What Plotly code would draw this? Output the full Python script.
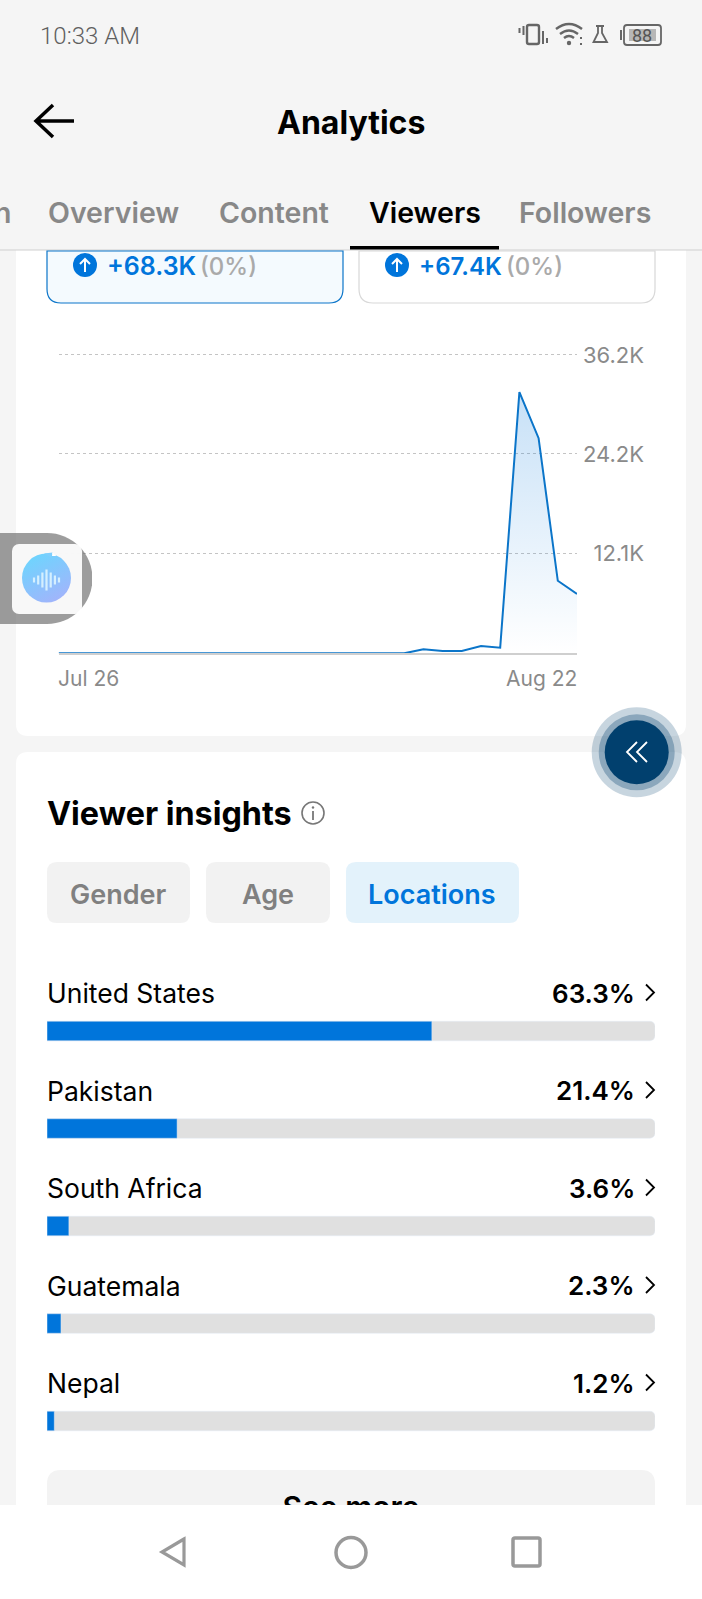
import base64, re
import plotly.graph_objects as go

W, H = 702, 1599

# ---------- data ----------
dates = ["2024-07-26","2024-07-27","2024-07-28","2024-07-29","2024-07-30","2024-07-31",
         "2024-08-01","2024-08-02","2024-08-03","2024-08-04","2024-08-05","2024-08-06",
         "2024-08-07","2024-08-08","2024-08-09","2024-08-10","2024-08-11","2024-08-12",
         "2024-08-13","2024-08-14","2024-08-15","2024-08-16","2024-08-17","2024-08-18",
         "2024-08-19","2024-08-20","2024-08-21","2024-08-22"]
viewers_k = [0,0,0,0,0,0,0,0,0,0,0,0,0,0,0,0,0,0,0,0.48,0.27,0.28,0.89,0.68,31.7,26.1,8.8,7.2]
y_ticks = [12.1, 24.2, 36.2]
y_labels = ["12.1K", "24.2K", "36.2K"]
x_labels = ["Jul 26", "Aug 22"]
countries = ["United States", "Pakistan", "South Africa", "Guatemala", "Nepal"]
shares = [63.3, 21.4, 3.6, 2.3, 1.2]
tabs = ["Overview", "Content", "Viewers", "Followers"]
chips = ["Gender", "Age", "Locations"]

# ---------- pixel helpers (page chrome only) ----------
BLUE = "#0075DB"
LINE = "#0B75C9"
def fx(x): return x / W
def fy(y): return 1 - y / H

def P(d):
    toks = re.findall(r"[A-Za-z]|-?\d+\.?\d*", d)
    out, i = [], 0
    for t in toks:
        if t.isalpha():
            out.append(t); i = 0
        else:
            v = float(t)
            out.append(f"{(fx(v) if i % 2 == 0 else fy(v)):.6f}")
            i += 1
    return " ".join(out)

shapes = []
def path(d, fill=None, line=None, lw=0, layer="above", opacity=1):
    s = dict(type="path", path=P(d), xref="paper", yref="paper", layer=layer, opacity=opacity,
             line=dict(color=line or "rgba(0,0,0,0)", width=lw))
    if fill: s["fillcolor"] = fill
    shapes.append(s)

def rrect(x0, y0, x1, y1, r):
    return (f"M {x0+r} {y0} L {x1-r} {y0} Q {x1} {y0} {x1} {y0+r} L {x1} {y1-r} Q {x1} {y1} {x1-r} {y1} "
            f"L {x0+r} {y1} Q {x0} {y1} {x0} {y1-r} L {x0} {y0+r} Q {x0} {y0} {x0+r} {y0} Z")

def circle(cx, cy, r, fill=None, line=None, lw=0, layer="above", opacity=1, ry=None):
    ry = ry or r
    s = dict(type="circle", xref="paper", yref="paper", x0=fx(cx-r), x1=fx(cx+r), y0=fy(cy+ry), y1=fy(cy-ry),
             layer=layer, opacity=opacity, line=dict(color=line or "rgba(0,0,0,0)", width=lw))
    if fill: s["fillcolor"] = fill
    shapes.append(s)

annots = []
def T(text, x, y, size, color="#000", weight=400, anchor="left", family="Inter"):
    annots.append(dict(text=text, x=fx(x), y=fy(y), xref="paper", yref="paper", xanchor=anchor, yanchor="middle",
                       showarrow=False, borderpad=0,
                       font=dict(family=family, size=size, color=color, weight=weight)))

# ---------- backgrounds ----------
path(rrect(16, 230, 686, 736, 12), fill="#FFFFFF", layer="below")
path(rrect(16, 752, 686, 1560, 12), fill="#FFFFFF", layer="below")
path(f"M 0 0 L {W} 0 L {W} 250 L 0 250 Z", fill="#F5F5F5", layer="below")
path(f"M 0 250 L {W} 250", line="#CFCFCF", lw=1, layer="below")
# summary boxes
path("M 47 251 L 47 289 Q 47 303 61 303 L 329 303 Q 343 303 343 289 L 343 251 Z", fill="#F4FAFE", line=LINE, lw=1.2, layer="below")
path("M 359 251 L 359 289 Q 359 303 373 303 L 641 303 Q 655 303 655 289 L 655 251 Z", fill="#FFFFFF", line="#D8D8D8", lw=1.2, layer="below")
# chips
path(rrect(47, 862, 190, 923, 10), fill="#F2F2F2", layer="below")
path(rrect(206, 862, 330, 923, 10), fill="#F2F2F2", layer="below")
path(rrect(346, 862, 519, 923, 10), fill="#E3F2FB", layer="below")
# see more button
path("M 47 1505 L 47 1484 Q 47 1470 61 1470 L 641 1470 Q 655 1470 655 1484 L 655 1505 Z", fill="#F3F3F3", layer="below")
# bottom nav
path(f"M 0 1505 L {W} 1505 L {W} {H} L 0 {H} Z", fill="#FFFFFF", layer="above")
path("M 184 1539 L 162 1552 L 184 1565 Z", line="#999999", lw=3.2)
circle(351, 1552.5, 15, line="#999999", lw=3.5)
path(rrect(513, 1538, 540, 1566, 2), line="#999999", lw=3.5)

# ---------- header ----------
T("10:33 AM", 39, 36, 24, "#5F5F5F", 300, family="Roboto")
path("M 74 121 L 36 121 M 53 105 L 36 121 L 53 137", line="#000000", lw=3.5)
T("Analytics", 351, 122, 32, "#000", 700, "center")
tab_x = [113, 273.5, 425, 585]
for name, x in zip(tabs, tab_x):
    active = name == "Viewers"
    T(name, x, 212, 28.5, "#000" if active else "#888888", 600, "center")
T("n", -7, 212, 28.5, "#888888", 600)
path("M 350 246 L 499 246 L 499 249.5 L 350 249.5 Z", fill="#000000")

# status icons
G = "#666666"
path(rrect(527, 25, 539, 44, 2), line=G, lw=2.4)
path("M 523.5 26 L 523.5 35 M 519.5 28 L 519.5 33 M 543 31 L 543 44 M 547 38 L 547 43", line=G, lw=2)
path("M 556 29 Q 569 19 582 29 M 560 34 Q 569 27 578 34 M 564 38 Q 569 34 574 38", line=G, lw=2.4)
circle(569, 43, 2.2, fill=G)
path("M 581 37 L 581 39 M 581 43 L 581 45", line=G, lw=2)
path("M 596 26 L 604 26 M 598 26 L 598 33 L 593.5 42 L 607 42 L 602 33 L 602 26", line=G, lw=1.8)
path("M 621 30 L 621 40", line=G, lw=2)
path(rrect(624, 25, 661, 45, 3), line=G, lw=1.8)
path("M 629 29 L 656 29 L 656 41 L 629 41 Z", fill="#B7B7B7")
T("88", 642, 35.5, 18, "#555555", 400, "center", "Roboto")

# summary text
for cx, tx, num, numsize, px_ in [(85, 106, "+68.3K", 25, 199), (397, 418, "+67.4K", 24, 505)]:
    circle(cx, 265, 12, fill=BLUE)
    path(f"M {cx} 272 L {cx} 259 M {cx-5} 264 L {cx} 259 L {cx+5} 264", line="#FFFFFF", lw=2)
    T(num, tx, 266, numsize, BLUE, 600)
    T("(0%)", px_, 266, 24, "#AAAAAA", 500)

# ---------- chart: axes ----------
px0, px1 = 58.6, 577
py_base, py_top = 653.3, 355
y_max = 36.2
y_pad = 0.3   # a little headroom so the top gridline is drawn
plot_top = py_top - y_pad * (py_base - py_top) / y_max
fig = go.Figure()
fig.add_trace(go.Scatter(
    x=dates, y=viewers_k, mode="lines", cliponaxis=False, hoverinfo="skip", showlegend=False,
    line=dict(color=LINE, width=2),
    fill="tozeroy",
    fillgradient=dict(type="vertical", colorscale=[[0, "rgba(0,117,219,0)"], [1, "rgba(0,117,219,0.22)"]]),
))
for i, lab in enumerate(x_labels):
    annots.append(dict(text=lab, x=dates[0] if i == 0 else dates[-1], xref="x", y=fy(678), yref="paper",
                       xanchor="left" if i == 0 else "right", yanchor="middle", showarrow=False, borderpad=0,
                       xshift=-2 if i == 0 else 1,
                       font=dict(family="Inter", size=21, color="#8A8A8A")))

# ---------- country bars ----------
fig.add_trace(go.Bar(y=countries, x=[100] * len(countries), orientation="h", xaxis="x2", yaxis="y2",
                     marker=dict(color="#E0E0E0", cornerradius=5), width=0.2, hoverinfo="skip", showlegend=False))
fig.add_trace(go.Bar(y=countries, x=shares, orientation="h", xaxis="x2", yaxis="y2",
                     marker=dict(color="#0075DB", cornerradius=5), width=0.2, hoverinfo="skip", showlegend=False))
row_h = 97.5
for i, (c, s) in enumerate(zip(countries, shares)):
    for txt, xp, anc, wt in [(c, 45.5, "left", 400), (f"{s}%", 636, "right", 600)]:
        annots.append(dict(text=txt, x=fx(xp), xref="paper", y=i, yref="y2", yshift=38, borderpad=0,
                           xanchor=anc, yanchor="middle", showarrow=False,
                           font=dict(family="Inter", size=26.5 if anc == "left" else 26, color="#000", weight=wt)))
    yc = 992.5 + i * row_h
    path(f"M 646 {yc-8} L 654 {yc} L 646 {yc+8}", line="#000000", lw=1.8)

# see more text, cut off by its own small subplot at the navigation bar
fig.add_trace(go.Scatter(x=[351], y=[1510.5], mode="text", text=["See more"], xaxis="x3", yaxis="y3",
                         cliponaxis=True, textposition="middle center", hoverinfo="skip", showlegend=False,
                         textfont=dict(family="Inter", size=30, color="#000", weight=600)))

# viewer insights
T("Viewer insights", 45.5, 813, 32.3, "#000", 700)
circle(313, 813, 11, line="#777777", lw=1.6)
circle(313, 807.5, 1.2, fill="#777777")
path("M 313 811 L 313 820", line="#777777", lw=1.8)
for name, x, col in zip(chips, [118, 268, 432], ["#808080", "#808080", BLUE]):
    T(name, x, 894, 27, col, 600, "center")

# collapse button
circle(636.7, 752.3, 45, fill="#00406E", opacity=0.22)
circle(636.7, 752.3, 38, fill="#00406E", opacity=0.3)
circle(636.7, 752.3, 32, fill="#01406E")
path("M 637 742 L 627 752 L 637 762 M 647 742 L 637 752 L 647 762", line="#FFFFFF", lw=1.8)

# floating voice widget
bars = [(34, 5), (38.2, 9), (42.4, 15), (46.5, 21), (50.7, 15), (54.9, 9), (59, 5)]
svg_bars = "".join(f'<rect x="{x-1.1}" y="{47-h/2}" width="2.2" height="{h}" fill="#DDF4FF" fill-opacity="0.9"/>' for x, h in bars)
svg = f'''<svg xmlns="http://www.w3.org/2000/svg" width="92" height="91" viewBox="0 0 92 91">
<defs><linearGradient id="g" x1="0.2" y1="0" x2="0.75" y2="1"><stop offset="0" stop-color="#6CD6FE"/><stop offset="1" stop-color="#A3B3FB"/></linearGradient></defs>
<path d="M0 0 H47 A45.5 45.5 0 0 1 47 91 H0 Z" fill="#6E6E6E" fill-opacity="0.68"/>
<rect x="12" y="11" width="70" height="70" rx="7" fill="#FFFFFF" fill-opacity="0.93"/>
<circle cx="46.5" cy="45" r="24.5" fill="url(#g)"/>
<path d="M44 20.5 L52.5 19.5 L51 24.5 Z" fill="#7FCFFD"/><path d="M52.5 19.5 L52 23 L56.5 23 Z" fill="#FFFFFF"/>
{svg_bars}</svg>'''
src = "data:image/svg+xml;base64," + base64.b64encode(svg.encode()).decode()

fig.update_layout(
    width=W, height=H, margin=dict(l=0, r=0, t=0, b=0, autoexpand=False), autosize=False,
    paper_bgcolor="#F5F5F5", plot_bgcolor="rgba(0,0,0,0)", barmode="overlay", showlegend=False,
    shapes=shapes, annotations=annots,
    images=[dict(source=src, xref="paper", yref="paper", x=0, y=fy(533), sizex=92 / W, sizey=91 / H,
                 xanchor="left", yanchor="top", sizing="stretch", layer="above")],
    xaxis=dict(domain=[fx(px0), fx(px1)], range=[dates[0], dates[-1]], type="date", showgrid=False, zeroline=False,
               showticklabels=False, ticks="", showline=True, linecolor="#CFCFCF", linewidth=2, anchor="y"),
    yaxis=dict(domain=[fy(py_base), fy(plot_top)], range=[0, y_max + y_pad], tickvals=y_ticks, ticktext=y_labels, anchor="free",
               position=fx(644), side="left", showline=False, zeroline=False, ticks="",
               showgrid=True, gridcolor="#C4C4C4", gridwidth=1.2, griddash="3px,3px",
               tickfont=dict(family="Inter", size=22, color="#8A8A8A")),
    xaxis2=dict(domain=[fx(47), fx(655)], range=[0, 100], visible=False, anchor="y2"),
    yaxis2=dict(domain=[fy(1031 + 4.5 * row_h), fy(1031 - 0.5 * row_h)], type="category",
                categoryorder="array", categoryarray=countries, range=[4.5, -0.5], visible=False, anchor="x2"),
    xaxis3=dict(domain=[0, 1], range=[0, W], visible=False, anchor="y3"),
    yaxis3=dict(domain=[fy(1505), fy(1470)], range=[1505, 1470], visible=False, anchor="x3"),
)

fig.write_html("out.html", config={"displayModeBar": False},
               post_script="document.body.style.margin='0';document.body.style.background='#F5F5F5';document.documentElement.style.overflow='hidden';")
